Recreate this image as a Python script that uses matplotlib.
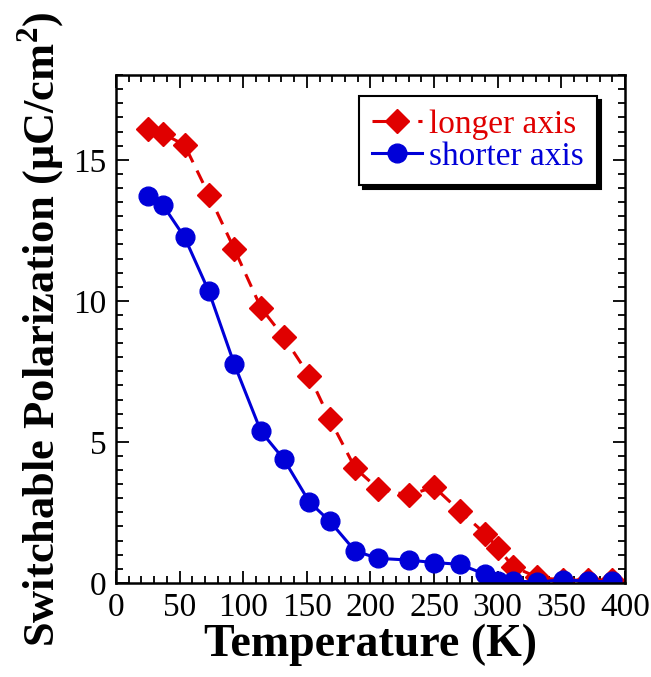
import numpy as np
import matplotlib
matplotlib.use('Agg')
import matplotlib.pyplot as plt
from matplotlib.ticker import MultipleLocator

plt.rcParams['font.family'] = ['Liberation Serif', 'DejaVu Serif']
plt.rcParams['mathtext.fontset'] = 'custom'
plt.rcParams['mathtext.rm'] = 'Liberation Serif'
plt.rcParams['mathtext.bf'] = 'Liberation Serif:bold'

# temperature (K)
temp = [25, 37, 54, 73, 93, 114, 132, 152, 168, 188, 206, 230, 250, 270,
        290, 300, 312, 331, 351, 371, 390]

# switchable polarization (uC/cm^2)
p_longer = [16.09, 15.93, 15.52, 13.76, 11.84, 9.75, 8.71, 7.34, 5.81, 4.07,
            3.34, 3.11, 3.40, 2.56, 1.75, 1.25, 0.58, 0.20, 0.10, 0.10, 0.10]
p_shorter = [13.73, 13.39, 12.25, 10.34, 7.76, 5.37, 4.38, 2.87, 2.19, 1.13,
             0.87, 0.81, 0.72, 0.66, 0.31, 0.08, 0.08, 0.02, 0.12, 0.05, 0.05]

fig = plt.figure(figsize=(6.51, 6.77), dpi=100)
ax = fig.add_axes([0.178, 0.139, 0.782, 0.750])

ax.plot(temp, p_longer, color='#e00000', ls=(0, (4.5, 3)), lw=2.2,
        marker='D', ms=12.5, mec='#e00000', label='longer axis')
ax.plot(temp, p_shorter, color='#0000d8', ls='-', lw=2.2,
        marker='o', ms=13.5, mec='#0000d8', label='shorter axis')

ax.set_xlim(0, 400)
ax.set_ylim(0, 18)
ax.xaxis.set_major_locator(MultipleLocator(50))
ax.xaxis.set_minor_locator(MultipleLocator(10))
ax.yaxis.set_major_locator(MultipleLocator(5))
ax.yaxis.set_minor_locator(MultipleLocator(0.5))

ax.tick_params(which='both', direction='in', top=True, right=True,
               width=1.3, labelsize=24)
ax.tick_params(which='major', length=9, pad=7)
ax.tick_params(which='minor', length=5)
for s in ax.spines.values():
    s.set_linewidth(1.8)

ax.set_xlabel('Temperature (K)', fontsize=33, fontweight='bold', labelpad=0)
ax.set_ylabel(r'Switchable Polarization ($\mathbf{\mu}$C/cm$^{\mathbf{2}}$)',
              fontsize=32, fontweight='bold', labelpad=4)

leg = ax.legend(loc='upper right', bbox_to_anchor=(0.945, 0.959),
                fontsize=24, frameon=True, fancybox=False,
                shadow={'color': 'black', 'alpha': 1, 'ox': 3, 'oy': -3},
                handlelength=1.5, handletextpad=0.2, borderpad=0.4,
                labelspacing=0.05, borderaxespad=0)
leg.get_frame().set_edgecolor('black')
leg.get_frame().set_linewidth(1.5)
for txt, c in zip(leg.get_texts(), ['#e00000', '#0000d8']):
    txt.set_color(c)

fig.savefig('out.png', dpi=100)
